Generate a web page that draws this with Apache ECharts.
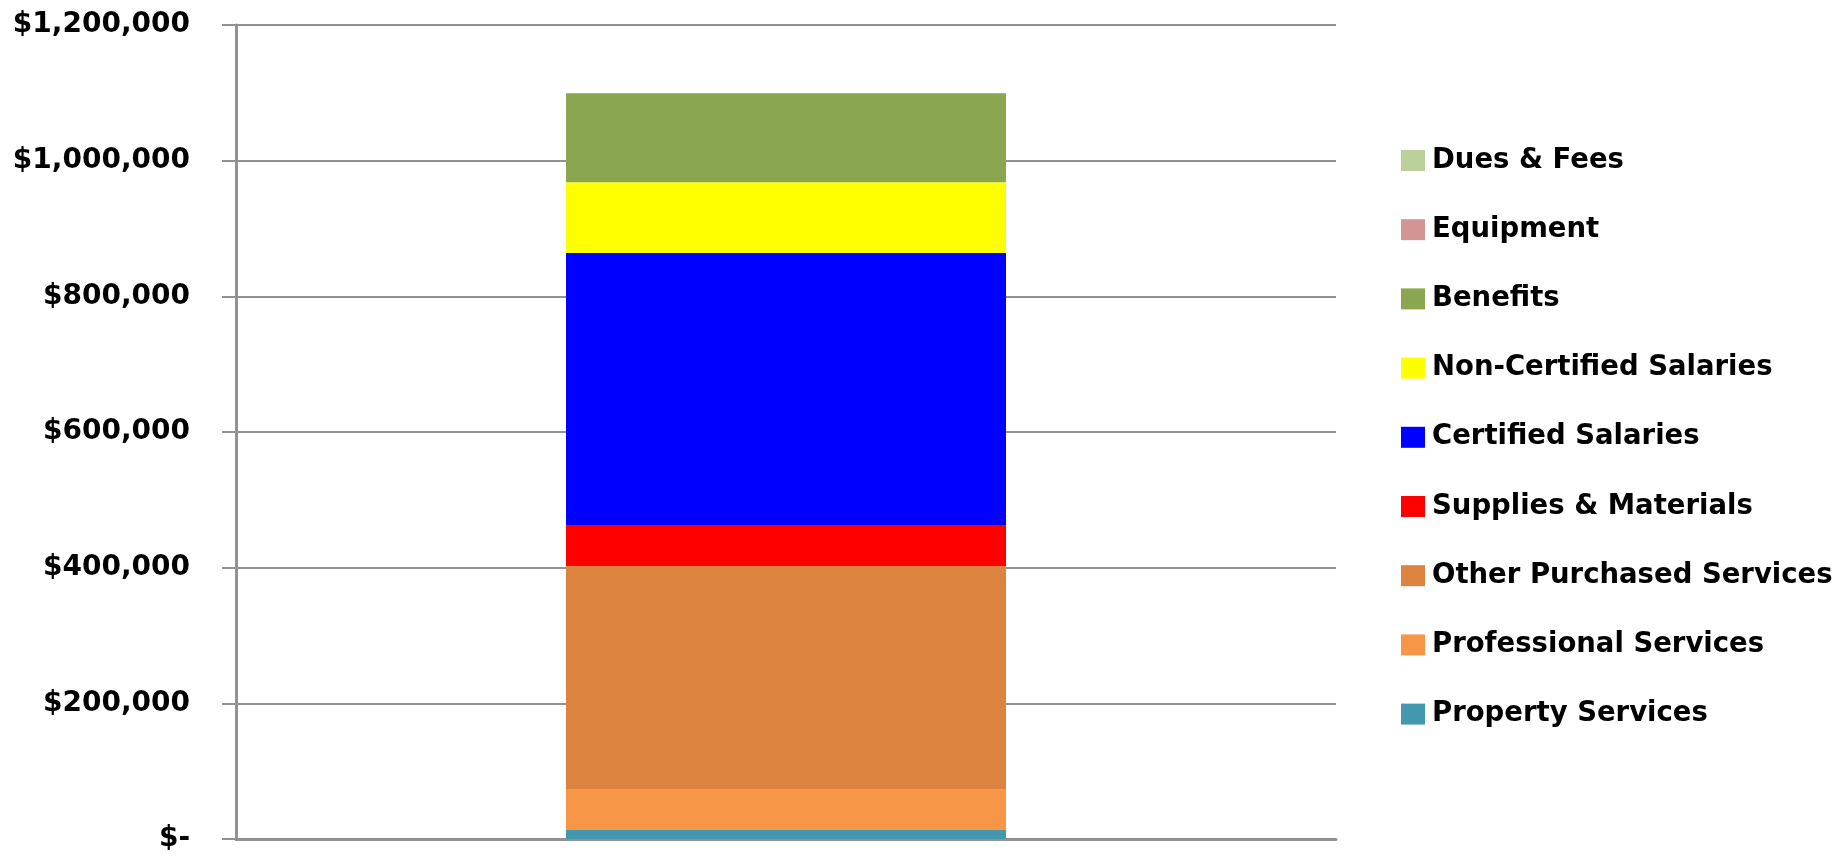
<!DOCTYPE html>
<html>
<head>
<meta charset="utf-8">
<script src="https://cdn.jsdelivr.net/npm/echarts@6/dist/echarts.min.js"></script>
<style>html,body{margin:0;padding:0;background:#fff;}#chart{width:1844px;height:860px;}</style>
</head>
<body>
<div id="chart"></div>
<script>
// Data (stack order bottom to top)
var categories = [''];
var seriesNames = ['Property Services', 'Professional Services', 'Other Purchased Services', 'Supplies & Materials', 'Certified Salaries', 'Non-Certified Salaries', 'Benefits', 'Equipment', 'Dues & Fees'];
var propertyServices = [13300];
var professionalServices = [59400];
var otherPurchasedServices = [329700];
var suppliesMaterials = [59400];
var certifiedSalaries = [401900];
var nonCertifiedSalaries = [104600];
var benefits = [131200];
var equipment = [0];
var duesFees = [0];
var seriesValues = [propertyServices, professionalServices, otherPurchasedServices, suppliesMaterials, certifiedSalaries, nonCertifiedSalaries, benefits, equipment, duesFees];
var seriesColors = ['#4397AF', '#F79646', '#DC833F', '#FF0000', '#0000FF', '#FFFF00', '#8AA64F', '#D39594', '#BBD09B'];
var yTicks = [0, 200000, 400000, 600000, 800000, 1000000, 1200000];

function fmt(v) {
  if (v === 0) return '$-';
  return '$' + String(v).replace(/\B(?=(\d{3})+(?!\d))/g, ',');
}

var FONT = 'DejaVu Sans';
var chart = echarts.init(document.getElementById('chart'));
var series = seriesNames.map(function (n, i) {
  return {
    name: n, type: 'bar', stack: 'total', data: seriesValues[i],
    barWidth: '40%',
    itemStyle: { color: seriesColors[i] },
    emphasis: { disabled: true }
  };
});
chart.setOption({
  animation: false,
  backgroundColor: '#ffffff',
  grid: { left: 236, right: 508, top: 25, bottom: 21, containLabel: false },
  legend: {
    orient: 'vertical', left: 1396, top: 141.5,
    data: seriesNames.slice().reverse(),
    itemWidth: 24, itemHeight: 21, itemGap: 41.2,
    icon: 'rect',
    selectedMode: false,
    textStyle: { fontFamily: FONT, fontWeight: 'bold', fontSize: 27.5, color: '#000', padding: [0, 0, 0, 2] }
  },
  xAxis: {
    type: 'category', data: categories,
    axisLine: { show: true, lineStyle: { color: '#929292', width: 3 } },
    axisTick: { show: false },
    axisLabel: { show: false }
  },
  yAxis: {
    type: 'value', min: 0, max: 1200000, interval: 200000,
    axisLine: { show: true, lineStyle: { color: '#929292', width: 3 } },
    axisTick: { show: true, inside: false, length: 14, lineStyle: { color: '#929292', width: 2 } },
    splitLine: { show: true, lineStyle: { color: '#929292', width: 2 } },
    axisLabel: {
      margin: 46, fontFamily: FONT, fontWeight: 'bold', fontSize: 28, color: '#000',
      formatter: function (v) { return yTicks.indexOf(v) >= 0 ? fmt(v) : ''; }
    }
  },
  series: series
});
</script>
</body>
</html>
